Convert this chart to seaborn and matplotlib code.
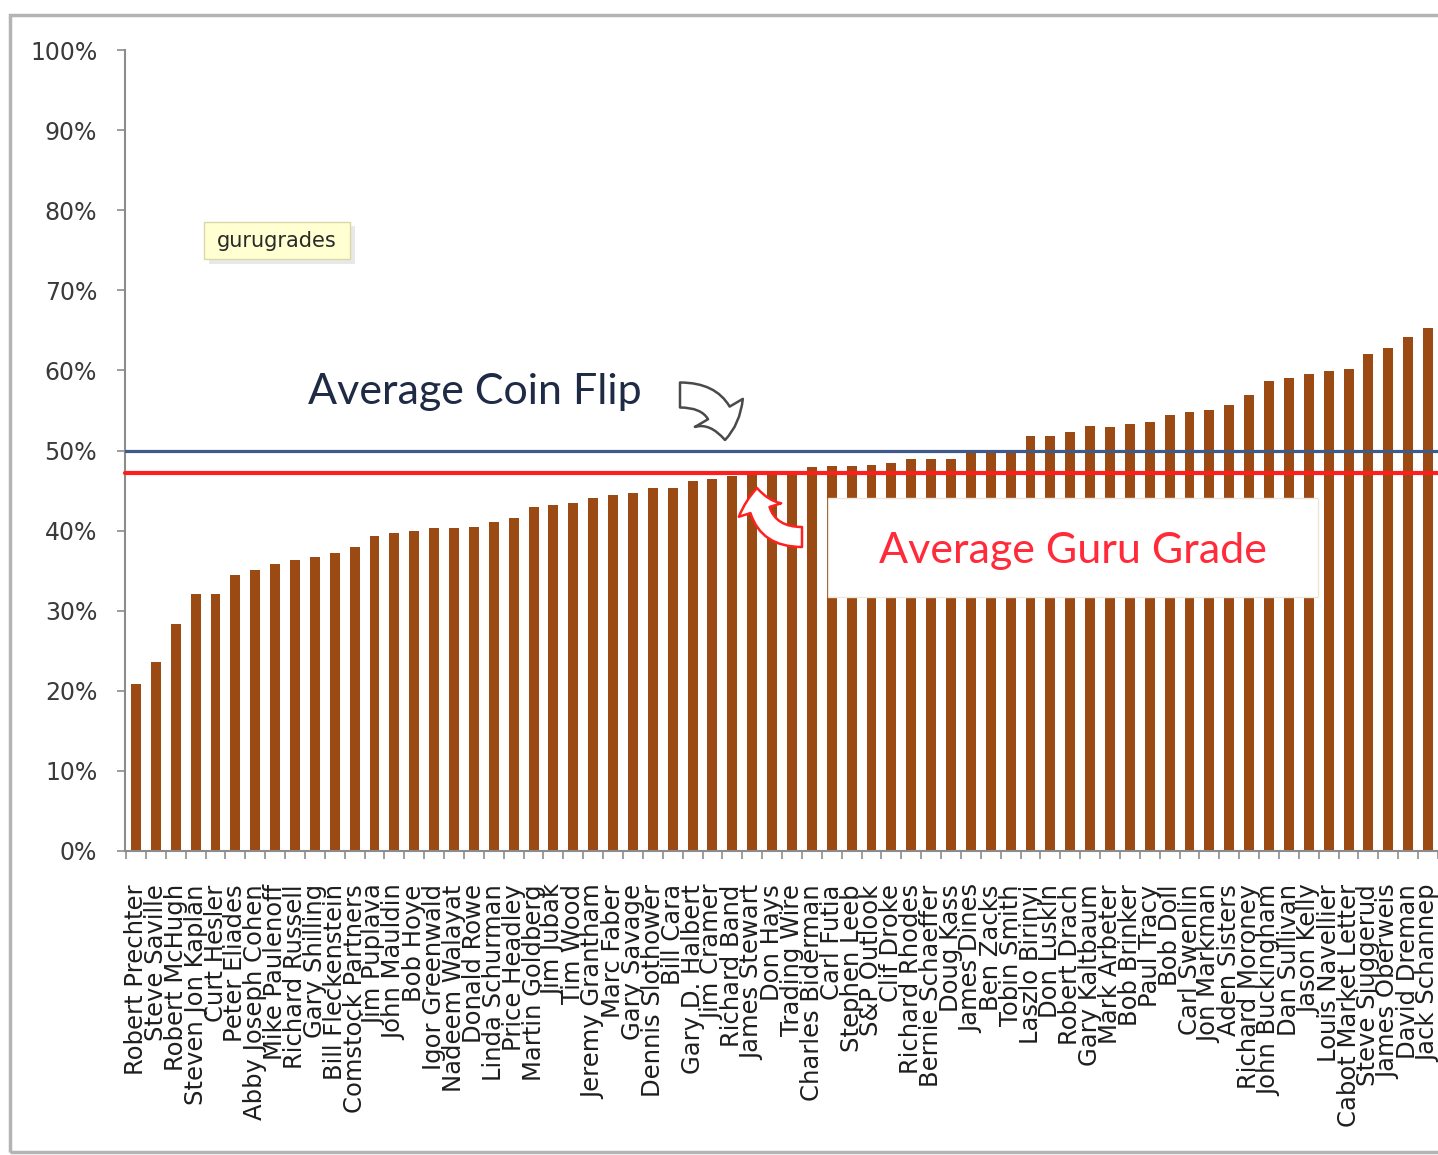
import matplotlib
matplotlib.use("Agg")
import matplotlib.pyplot as plt
import seaborn as sns
import pandas as pd
from matplotlib.patches import FancyArrowPatch, Rectangle
from matplotlib.ticker import FixedLocator, PercentFormatter

gurus = [
    "Robert Prechter", "Steve Saville", "Robert McHugh", "Steven Jon Kaplan", "Curt Hesler",
    "Peter Eliades", "Abby Joseph Cohen", "Mike Paulenoff", "Richard Russell", "Gary Shilling",
    "Bill Fleckenstein", "Comstock Partners", "Jim Puplava", "John Mauldin", "Bob Hoye",
    "Igor Greenwald", "Nadeem Walayat", "Donald Rowe", "Linda Schurman", "Price Headley",
    "Martin Goldberg", "Jim Jubak", "Tim Wood", "Jeremy Grantham", "Marc Faber",
    "Gary Savage", "Dennis Slothower", "Bill Cara", "Gary D. Halbert", "Jim Cramer",
    "Richard Band", "James Stewart", "Don Hays", "Trading Wire", "Charles Biderman",
    "Carl Futia", "Stephen Leeb", "S&P Outlook", "Clif Droke", "Richard Rhodes",
    "Bernie Schaeffer", "Doug Kass", "James Dines", "Ben Zacks", "Tobin Smith",
    "Laszlo Birinyi", "Don Luskin", "Robert Drach", "Gary Kaltbaum", "Mark Arbeter",
    "Bob Brinker", "Paul Tracy", "Bob Doll", "Carl Swenlin", "Jon Markman",
    "Aden Sisters", "Richard Moroney", "John Buckingham", "Dan Sullivan", "Jason Kelly",
    "Louis Navellier", "Cabot Market Letter", "Steve Sjuggerud", "James Oberweis", "David Dreman",
    "Jack Schannep",
]

grades = [
    20.9, 23.6, 28.4, 32.1, 32.1, 34.4, 35.1, 35.8, 36.3, 36.7,
    37.2, 37.9, 39.3, 39.7, 40.0, 40.3, 40.3, 40.5, 41.1, 41.6,
    42.9, 43.2, 43.4, 44.1, 44.4, 44.7, 45.3, 45.3, 46.2, 46.5,
    46.8, 46.9, 46.9, 47.0, 47.9, 48.1, 48.1, 48.2, 48.4, 48.9,
    48.9, 49.0, 49.7, 49.8, 49.8, 51.8, 51.8, 52.3, 53.0, 52.9,
    53.3, 53.6, 54.4, 54.8, 55.1, 55.7, 56.9, 58.7, 59.1, 59.6,
    59.9, 60.2, 62.1, 62.8, 64.2, 65.3,
]

coin_flip = 50.0
guru_average = 47.2
yticks = [0, 10, 20, 30, 40, 50, 60, 70, 80, 90, 100]

W, H = 1438, 1155
sns.set_theme(style="white")
plt.rcParams["font.family"] = ["DejaVu Sans"]

fig = plt.figure(figsize=(W / 100, H / 100), dpi=100)
fig.patch.set_facecolor("white")

def fx(px):
    return px / W

def fy(py):
    return 1 - py / H

ax = fig.add_axes([fx(125), fy(851), 1 - fx(125), fy(50) - fy(851)])

df = pd.DataFrame({"guru": gurus, "grade": grades})
sns.barplot(data=df, x="guru", y="grade", color="#9A4A12", width=0.5,
            saturation=1, linewidth=0, ax=ax, zorder=2)

ax.axhline(coin_flip, color="#3E5A8A", lw=2.3, zorder=3)
ax.axhline(guru_average, color="#FF1E1E", lw=3.0, zorder=3, clip_on=False)

ax.set_ylim(0, 100)
ax.set_xlim(-0.553, 65.43)
ax.set_xlabel("")
ax.set_ylabel("")
ax.yaxis.set_major_locator(FixedLocator(yticks))
ax.yaxis.set_major_formatter(PercentFormatter(decimals=0))
ax.tick_params(axis="y", which="major", direction="out", length=6, width=1.2,
               color="#8C8C8C", labelsize=17, labelcolor="#3A3A3A", pad=14, left=True)

ax.set_xticks(range(len(gurus)))
ax.set_xticklabels(gurus, rotation=90, ha="center", va="top", fontsize=17.5,
                   color="#1E1E1E")
ax.tick_params(axis="x", which="major", length=0, pad=24)
ax.set_xticks([i - 0.5 for i in range(len(gurus) + 1)], minor=True)
ax.tick_params(axis="x", which="minor", direction="out", length=6, width=1.2,
               color="#8C8C8C", bottom=True)

for s in ["top", "right"]:
    ax.spines[s].set_visible(False)
for s in ["left", "bottom"]:
    ax.spines[s].set_color("#8C8C8C")
    ax.spines[s].set_linewidth(1.5)
ax.grid(False)

# outer chart border
fig.patches.append(Rectangle((fx(10), fy(1152)), 1.2, fy(15) - fy(1152),
                             transform=fig.transFigure, fill=False,
                             edgecolor="#B4B4B4", lw=2.5, zorder=0))

# gurugrades tooltip
fig.patches.append(Rectangle((fx(209), fy(264)), fx(146), fy(226) - fy(264),
                             transform=fig.transFigure, facecolor="#DADADA",
                             edgecolor="none", alpha=0.6, zorder=4))
fig.patches.append(Rectangle((fx(204), fy(259)), fx(146), fy(222) - fy(259),
                             transform=fig.transFigure, facecolor="#FFFFD2",
                             edgecolor="#D9D9A8", lw=1, zorder=5))
fig.text(fx(277), fy(241), "gurugrades", fontsize=15, color="#2A2A2A",
         ha="center", va="center", zorder=6)

# Average Coin Flip label
fig.text(fx(475), fy(392), "Average Coin Flip", family="Lato", fontsize=31,
         color="#1F2B45", ha="center", va="center", zorder=6)
fig.patches.append(FancyArrowPatch((fx(680), fy(395)), (fx(725), fy(440)),
                                   transform=fig.transFigure,
                                   connectionstyle="angle3,angleA=0,angleB=90",
                                   arrowstyle="simple,head_length=0.5,head_width=1.0,tail_width=0.45",
                                   mutation_scale=40, shrinkA=0, shrinkB=0,
                                   facecolor="white",
                                   edgecolor="#4A4A4A", lw=1.8, zorder=6))

# Average Guru Grade box and label
fig.patches.append(Rectangle((fx(828), fy(597)), fx(490), fy(498) - fy(597),
                             transform=fig.transFigure, facecolor="white",
                             edgecolor="#EEE6DA", lw=1, zorder=5))
fig.text(fx(1073), fy(551), "Average Guru Grade", family="Lato", fontsize=31,
         color="#FF2A3A", ha="center", va="center", zorder=6)
fig.patches.append(FancyArrowPatch((fx(802), fy(537)), (fx(757), fy(488)),
                                   transform=fig.transFigure,
                                   connectionstyle="angle3,angleA=0,angleB=90",
                                   arrowstyle="simple,head_length=0.5,head_width=1.0,tail_width=0.45",
                                   mutation_scale=32, shrinkA=0, shrinkB=0,
                                   facecolor="white",
                                   edgecolor="#FF2020", lw=1.8, zorder=6))

fig.savefig("out.png", dpi=100, facecolor="white")
